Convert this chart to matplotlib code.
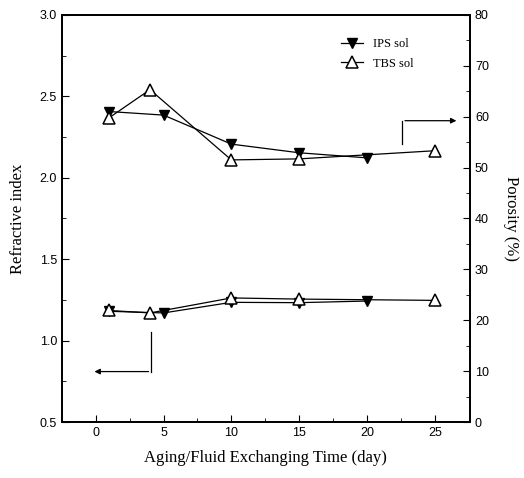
import matplotlib

matplotlib.use("Agg")
import matplotlib.pyplot as plt
from matplotlib.ticker import MultipleLocator

# porosity (right axis)
ips_por_days = [1, 5, 10, 15, 20]
ips_por = [61.0, 60.3, 54.6, 52.9, 51.9]
tbs_por_days = [1, 4, 10, 15, 25]
tbs_por = [59.8, 65.3, 51.5, 51.7, 53.3]

# refractive index (left axis)
ips_ri_days = [1, 5, 10, 15, 20]
ips_ri = [1.18, 1.17, 1.235, 1.233, 1.243]
tbs_ri_days = [1, 4, 10, 15, 25]
tbs_ri = [1.185, 1.17, 1.262, 1.255, 1.247]

xticks = [0, 5, 10, 15, 20, 25]
left_ticks = [0.5, 1.0, 1.5, 2.0, 2.5, 3.0]
right_ticks = [0, 10, 20, 30, 40, 50, 60, 70, 80]

serif = "Liberation Serif"
sans = "Liberation Sans"

fig = plt.figure(figsize=(5.24, 4.78), dpi=100)
ax = fig.add_axes([0.118, 0.117, 0.779, 0.852])
ax2 = ax.twinx()

ips_style = dict(color="black", marker="v", markersize=7.5, lw=0.9,
                 markerfacecolor="black", markeredgecolor="black")
tbs_style = dict(color="black", marker="^", markersize=8.5, lw=0.9,
                 markerfacecolor="white", markeredgecolor="black", markeredgewidth=1.1)

ax.plot(ips_ri_days, ips_ri, **ips_style)
ax.plot(tbs_ri_days, tbs_ri, **tbs_style)
ax2.plot(ips_por_days, ips_por, label="IPS sol", **ips_style)
ax2.plot(tbs_por_days, tbs_por, label="TBS sol", **tbs_style)

ax.set_xlim(-2.5, 27.6)
ax.set_ylim(0.5, 3.0)
ax2.set_ylim(0, 80)

ax.set_xticks(xticks)
ax.set_yticks(left_ticks)
ax.set_yticklabels([f"{v:.1f}" for v in left_ticks], fontfamily=sans, fontsize=9)
ax.set_xticklabels([str(v) for v in xticks], fontfamily=sans, fontsize=9)
ax2.set_yticks(right_ticks)
ax2.set_yticklabels([str(v) for v in right_ticks], fontfamily=sans, fontsize=9)
ax.xaxis.set_minor_locator(MultipleLocator(2.5))
ax.yaxis.set_minor_locator(MultipleLocator(0.25))
ax2.yaxis.set_minor_locator(MultipleLocator(5))

ax.tick_params(axis="both", which="both", direction="in", top=False)
ax.tick_params(which="major", length=5)
ax.tick_params(which="minor", length=3)
ax2.tick_params(which="both", direction="in")
ax2.tick_params(which="major", length=5)
ax2.tick_params(which="minor", length=3)

for a in (ax, ax2):
    for s in a.spines.values():
        s.set_linewidth(1.3)

ax.set_xlabel("Aging/Fluid Exchanging Time (day)", fontfamily=serif, fontsize=12, labelpad=8)
ax.set_ylabel("Refractive index", fontfamily=serif, fontsize=12, labelpad=10)
ax2.set_ylabel("Porosity (%)", fontfamily=serif, fontsize=12, rotation=-90, labelpad=22)

# arrows pointing to the axes
ax2.plot([22.6, 22.6], [54.6, 59.2], color="black", lw=0.9)
ax2.annotate("", xy=(26.8, 59.2), xytext=(22.6, 59.2),
             arrowprops=dict(arrowstyle="-|>", color="black", lw=0.9, mutation_scale=8))
ax.plot([4.1, 4.1], [1.05, 0.81], color="black", lw=0.9)
ax.annotate("", xy=(-0.3, 0.81), xytext=(4.1, 0.81),
            arrowprops=dict(arrowstyle="-|>", color="black", lw=0.9, mutation_scale=8))

ax2.legend(loc="upper right", bbox_to_anchor=(0.89, 0.97), frameon=False,
           prop={"family": serif, "size": 9}, handlelength=1.8, labelspacing=0.6)

fig.savefig("out.png", dpi=100)
